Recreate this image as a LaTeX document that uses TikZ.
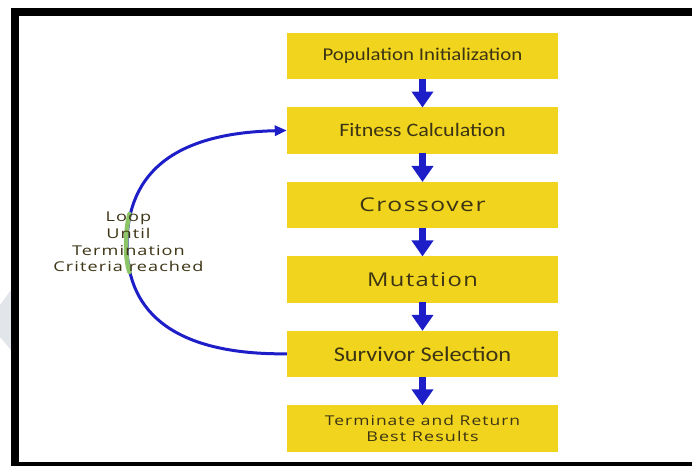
\documentclass[tikz,border=0pt]{standalone}
\usepackage{fontspec}
\usepackage{graphicx}
\usetikzlibrary{arrows.meta}
\newfontfamily\calf{Carlito}
\newfontfamily\widef[LetterSpace=6]{Open Sans}
\definecolor{boxyellow}{RGB}{240,212,30}
\definecolor{txtdark}{RGB}{60,52,20}
\definecolor{arrblue}{RGB}{30,30,200}
\definecolor{glowgreen}{RGB}{140,196,104}
\definecolor{markgrey}{RGB}{226,230,234}
\tikzset{
  stepbox/.style={fill=boxyellow, draw=none, minimum width=271pt, minimum height=46.5pt, inner sep=0pt, text=txtdark, align=center},
  downarrow/.style={draw=arrblue, line width=7pt, -{Triangle[width=21pt,length=16pt]}, shorten <=-0.5pt, shorten >=-0.5pt},
  loopline/.style={draw=arrblue, line width=3pt, -{Triangle[width=10pt,length=12pt]}},
}
\begin{document}
\begin{tikzpicture}[x=1pt,y=-1pt]
\useasboundingbox (0,0) rectangle (692,466);
\fill[white] (0,0) rectangle (692,466);
% faint watermark fragment
\fill[markgrey] (0,305) -- (11,290) -- (11,350) -- (0,337) -- cycle;
% frame
\fill[black] (11,8.3) rectangle (692,16);
\fill[black] (11,8.3) rectangle (19,466);
\fill[black] (11,462) rectangle (692,466);

\node[stepbox, font={\calf\fontsize{18}{20}\selectfont}] (b1) at (422.5,56) {\scalebox{1.16}[1]{Population Initialization}};
\node[stepbox, font={\calf\fontsize{19}{21}\selectfont}] (b2) at (422.5,130.45) {\scalebox{1.16}[1]{Fitness Calculation}};
\node[stepbox, font={\widef\fontsize{19}{21}\selectfont}] (b3) at (422.5,204.9) {\scalebox{1.3}[1]{Crossover}};
\node[stepbox, font={\widef\fontsize{19}{21}\selectfont}] (b4) at (422.5,279.35) {\scalebox{1.25}[1]{Mutation}};
\node[stepbox, font={\calf\fontsize{21}{23}\selectfont}] (b5) at (422.5,353.8) {\scalebox{1.16}[1]{Survivor Selection}};
\node[stepbox, font={\widef\fontsize{13.5}{16}\selectfont}] (b6) at (422.5,428.25) {\scalebox{1.29}[1]{Terminate and Return}\\\scalebox{1.33}[1]{Best Results}};

\draw[downarrow] (b1.south) -- (b2.north);
\draw[downarrow] (b2.south) -- (b3.north);
\draw[downarrow] (b3.south) -- (b4.north);
\draw[downarrow] (b4.south) -- (b5.north);
\draw[downarrow] (b5.south) -- (b6.north);

\coordinate (lm) at (127,245);
\draw[loopline] (b5.west) .. controls (178,355) and (127,315) .. (lm) .. controls (127,170) and (178,133) .. (b2.west);
\draw[glowgreen, line width=4.5pt, line cap=round] (129.5,214) .. controls (127.15,223.35) and (126,233.75) .. (126,245) .. controls (126,255.5) and (127.15,265.3) .. (129.5,272);

\node[text=txtdark, align=center, font={\widef\fontsize{13.5}{16.7}\selectfont}] (lbl) at (128.5,242)
  {\scalebox{1.34}[1]{Loop}\\\scalebox{1.34}[1]{Until}\\\scalebox{1.34}[1]{Termination}\\\scalebox{1.34}[1]{Criteria reached}};
\end{tikzpicture}
\end{document}
